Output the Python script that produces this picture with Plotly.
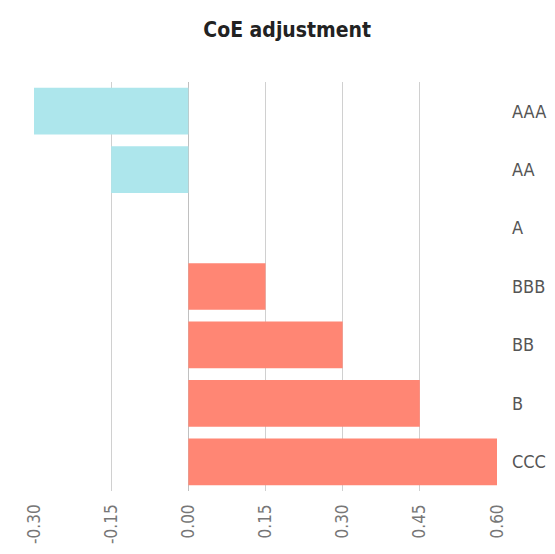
import plotly.graph_objects as go

categories = ["AAA", "AA", "A", "BBB", "BB", "B", "CCC"]
values = [-0.30, -0.15, 0.00, 0.15, 0.30, 0.45, 0.60]
tick_vals = [-0.30, -0.15, 0.00, 0.15, 0.30, 0.45, 0.60]
tick_text = ["-0.30", "-0.15", "0.00", "0.15", "0.30", "0.45", "0.60"]
title_text = "CoE adjustment"

colors = ["#ADE6EC" if v < 0 else "#FF8674" for v in values]
FONT = "DejaVu Sans Condensed"

fig = go.Figure(go.Bar(
    x=values, y=categories, orientation="h",
    marker=dict(color=colors, line=dict(width=0)),
    hoverinfo="x+y",
))

# page body has an 8px margin; figure sized to fit inside it
fig.update_layout(
    width=539, height=538,
    margin=dict(l=26, r=50, t=74, b=55),
    paper_bgcolor="white", plot_bgcolor="white",
    bargap=0.2,
    showlegend=False,
    title=dict(text="<b>" + title_text + "</b>", x=0.518, xanchor="center",
               y=0.959, yanchor="middle",
               font=dict(family=FONT, size=21, color="#222")),
    xaxis=dict(range=[-0.30, 0.60], tickvals=tick_vals, ticktext=tick_text,
               tickangle=-90, showgrid=True, gridcolor="#d0d0d0", gridwidth=1,
               zeroline=True, zerolinecolor="#c0c0c0", zerolinewidth=1,
               showline=False, ticks="", ticklabelstandoff=9, automargin=False,
               tickfont=dict(family=FONT, size=17, color="#777")),
    yaxis=dict(side="right", autorange="reversed", showgrid=False, zeroline=False,
               showline=False, ticks="", ticklabelstandoff=14, automargin=False,
               tickfont=dict(family=FONT, size=18, color="#555")),
)

fig.write_html("out.html")
